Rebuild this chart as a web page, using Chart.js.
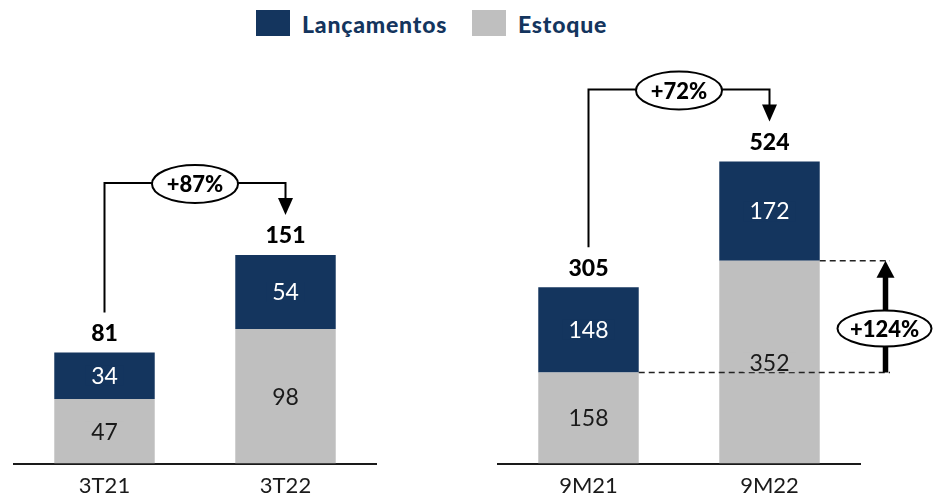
<!DOCTYPE html>
<html>
<head>
<meta charset="utf-8">
<script src="https://cdn.jsdelivr.net/npm/chart.js@4.4.0/dist/chart.umd.min.js"></script>
<style>
  html, body { margin: 0; padding: 0; background: #fff; }
  body { width: 933px; height: 496px; position: relative; overflow: hidden; font-family: Lato, sans-serif; }
  #wrapQ { position: absolute; left: 0; top: 0; }
  #wrapM { position: absolute; left: 480px; top: 0; }
  .sw { position: absolute; top: 10px; width: 34px; height: 26px; }
  .lt { position: absolute; top: 11px; line-height: 26px; font-size: 23px; font-weight: 900; color: #14355E; letter-spacing: 0.8px; white-space: nowrap; }
</style>
</head>
<body>
<span class="sw" style="left:256px;background:#14355E"></span>
<span class="lt" style="left:302px">Lançamentos</span>
<span class="sw" style="left:472px;background:#BFBFBF"></span>
<span class="lt" style="left:518px">Estoque</span>

<div id="wrapQ"><canvas id="chartQ" width="390" height="508"></canvas></div>
<div id="wrapM"><canvas id="chartM" width="453" height="508"></canvas></div>

<script>
// --- DATA ---
const quarterLabels = ['3T21', '3T22'];
const quarterEstoque = [47, 98];
const quarterLancamentos = [34, 54];
const quarterTotals = [81, 151];
const quarterGrowth = '+87%';

const ytdLabels = ['9M21', '9M22'];
const ytdEstoque = [158, 352];
const ytdLancamentos = [148, 172];
const ytdTotals = [305, 524];
const ytdGrowth = '+72%';
const ytdStockGrowth = '+124%';

const NAVY = '#14355E';
const GRAY = '#BFBFBF';
const FONT = 'Lato, sans-serif';

function drawBubble(ctx, cx, cy, rx, ry, text) {
    ctx.beginPath();
    ctx.ellipse(cx, cy, rx, ry, 0, 0, Math.PI * 2);
    ctx.fillStyle = '#fff';
    ctx.fill();
    ctx.lineWidth = 2;
    ctx.strokeStyle = '#000';
    ctx.stroke();
    ctx.fillStyle = '#000';
    ctx.font = '900 22px ' + FONT;
    ctx.textAlign = 'center';
    ctx.textBaseline = 'middle';
    ctx.fillText(text, cx, cy + 1);
}

// labels, totals, growth brackets drawn on top of the bars
const annotationPlugin = {
    id: 'annotations',
    afterDatasetsDraw(chart, args, opts) {
        const ctx = chart.ctx;
        const stock = chart.getDatasetMeta(0).data;
        const launch = chart.getDatasetMeta(1).data;
        const area = chart.chartArea;
        ctx.save();

        // stock comparison: dashed guides + thick arrow
        if (opts.stockGrowth) {
            const yA = stock[0].y, yB = stock[1].y;
            const xEnd = area.right + 30;
            ctx.strokeStyle = '#222';
            ctx.lineWidth = 1.5;
            ctx.setLineDash([6, 4]);
            ctx.beginPath();
            ctx.moveTo(stock[0].x + stock[0].width / 2, yA);
            ctx.lineTo(xEnd, yA);
            ctx.moveTo(stock[1].x + stock[1].width / 2, yB);
            ctx.lineTo(xEnd, yB);
            ctx.stroke();
            ctx.setLineDash([]);

            const ax = area.right + 25.5;
            ctx.strokeStyle = '#000';
            ctx.lineWidth = 5.5;
            ctx.beginPath();
            ctx.moveTo(ax, yA);
            ctx.lineTo(ax, yB + 14);
            ctx.stroke();
            ctx.fillStyle = '#000';
            ctx.beginPath();
            ctx.moveTo(ax - 9, yB + 17);
            ctx.lineTo(ax + 9, yB + 17);
            ctx.lineTo(ax, yB);
            ctx.closePath();
            ctx.fill();
            drawBubble(ctx, ax - 1, (yA + yB) / 2 + 12, 47, 18, opts.stockGrowth);
        }

        // values inside each segment
        ctx.font = '23px ' + FONT;
        ctx.textAlign = 'center';
        ctx.textBaseline = 'middle';
        [[stock, GRAY, '#1a1a1a'], [launch, NAVY, '#fff']].forEach(([bars, bg, fg], di) => {
            const values = chart.data.datasets[di].data;
            bars.forEach((bar, i) => {
                const cy = (bar.y + bar.base) / 2;
                const label = String(values[i]);
                const w = ctx.measureText(label).width + 12;
                ctx.fillStyle = bg;
                ctx.fillRect(bar.x - w / 2, cy - 10, w, 20);
                ctx.fillStyle = fg;
                ctx.fillText(label, bar.x, cy + 1);
            });
        });

        // totals above bars
        ctx.font = '900 23px ' + FONT;
        ctx.fillStyle = '#000';
        launch.forEach((bar, i) => {
            ctx.fillText(String(opts.totals[i]), bar.x, bar.y - 19);
        });

        // growth bracket between the two bars
        if (opts.growth) {
            const x0 = launch[0].x, x1 = launch[1].x;
            const top0 = launch[0].y, top1 = launch[1].y;
            const yLine = top1 - 72;
            ctx.strokeStyle = '#000';
            ctx.lineWidth = 2;
            ctx.beginPath();
            ctx.moveTo(x0, top0 - 40);
            ctx.lineTo(x0, yLine);
            ctx.lineTo(x1, yLine);
            ctx.lineTo(x1, top1 - 55);
            ctx.stroke();
            ctx.fillStyle = '#000';
            ctx.beginPath();
            ctx.moveTo(x1 - 7.5, top1 - 57);
            ctx.lineTo(x1 + 7.5, top1 - 57);
            ctx.lineTo(x1, top1 - 40);
            ctx.closePath();
            ctx.fill();
            drawBubble(ctx, (x0 + x1) / 2, yLine + 1, 43, 19, opts.growth);
        }
        ctx.restore();
    }
};

function buildChart(canvasId, labels, estoque, lancamentos, yMax, padding, extra) {
    return new Chart(document.getElementById(canvasId), {
        type: 'bar',
        data: {
            labels: labels,
            datasets: [
                { label: 'Estoque', data: estoque, backgroundColor: GRAY },
                { label: 'Lançamentos', data: lancamentos, backgroundColor: NAVY }
            ]
        },
        options: {
            responsive: false,
            animation: false,
            devicePixelRatio: 1,
            layout: { padding: padding },
            datasets: { bar: { categoryPercentage: 1, barPercentage: 0.555 } },
            plugins: {
                legend: { display: false },
                tooltip: { enabled: false },
                annotations: extra
            },
            scales: {
                x: {
                    stacked: true,
                    grid: { display: false, drawTicks: false },
                    border: { display: true, color: '#1a1a1a', width: 2 },
                    ticks: { color: '#1a1a1a', font: { family: FONT, size: 22 }, padding: 9 }
                },
                y: { stacked: true, display: false, min: 0, max: yMax }
            }
        },
        plugins: [annotationPlugin]
    });
}

buildChart('chartQ', quarterLabels, quarterEstoque, quarterLancamentos, 294,
    { top: 60, left: 14, right: 14, bottom: 0 },
    { totals: quarterTotals, growth: quarterGrowth });

buildChart('chartM', ytdLabels, ytdEstoque, ytdLancamentos, 700,
    { top: 60, left: 18, right: 73, bottom: 0 },
    { totals: ytdTotals, growth: ytdGrowth, stockGrowth: ytdStockGrowth });
</script>
</body>
</html>
